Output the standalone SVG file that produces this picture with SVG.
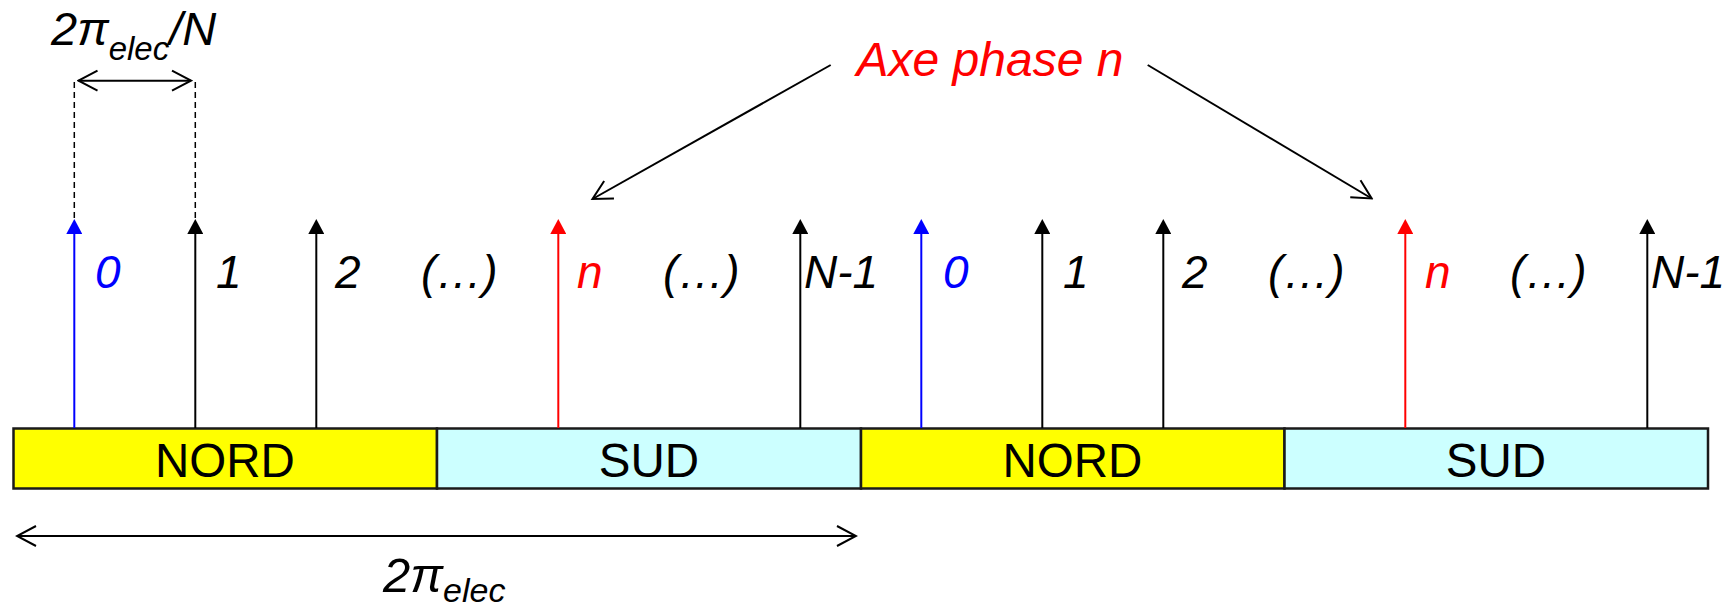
<svg xmlns="http://www.w3.org/2000/svg" width="1735" height="606" viewBox="0 0 1735 606">
<style>
text{font-family:"Liberation Sans",Arial,sans-serif;}
.it{font-style:italic;}
.lbl{font-size:46px;font-style:italic;fill:#000;}
.blue{fill:#0000FF;}
.red{fill:#FF0000;}
.pole{font-size:47.5px;text-anchor:middle;fill:#000;}
.nord{fill:#FFFF00;stroke:#1a1a1a;stroke-width:2.5;}
.sud{fill:#CCFFFF;stroke:#1a1a1a;stroke-width:2.5;}
.vk{stroke:#000;stroke-width:2;fill:none;}
.vb{stroke:#0000FF;stroke-width:2;fill:none;}
.vr{stroke:#FF0000;stroke-width:2;fill:none;}
.thin{stroke:#000;stroke-width:2;fill:none;}
.dash{stroke:#000;stroke-width:1.5;fill:none;stroke-dasharray:6 4;}
</style>
<defs>
<marker id="open" markerUnits="userSpaceOnUse" viewBox="-22 -12 24 24" refX="0" refY="0" markerWidth="24" markerHeight="24" orient="auto-start-reverse">
<path d="M-19,-10 L0,0 L-19,10" fill="none" stroke="#000" stroke-width="2"/>
</marker>
<marker id="hk" markerUnits="userSpaceOnUse" viewBox="0 -8 16 16" refX="1" refY="0" markerWidth="16" markerHeight="16" orient="auto">
<path d="M0,-8 L15,0 L0,8 Z" fill="#000"/>
</marker>
<marker id="hb" markerUnits="userSpaceOnUse" viewBox="0 -8 16 16" refX="1" refY="0" markerWidth="16" markerHeight="16" orient="auto">
<path d="M0,-8 L15,0 L0,8 Z" fill="#0000FF"/>
</marker>
<marker id="hr" markerUnits="userSpaceOnUse" viewBox="0 -8 16 16" refX="1" refY="0" markerWidth="16" markerHeight="16" orient="auto">
<path d="M0,-8 L15,0 L0,8 Z" fill="#FF0000"/>
</marker>
</defs>

<g id="poles">
<g id="nord1"><rect class="nord" x="13.5" y="428.5" width="423.5" height="60"/><text class="pole" x="225" y="477">NORD</text></g>
<g id="sud1"><rect class="sud" x="437" y="428.5" width="424" height="60"/><text class="pole" x="649" y="477">SUD</text></g>
<g id="nord2"><rect class="nord" x="861" y="428.5" width="423.5" height="60"/><text class="pole" x="1072.5" y="477">NORD</text></g>
<g id="sud2"><rect class="sud" x="1284.5" y="428.5" width="423.5" height="60"/><text class="pole" x="1496" y="477">SUD</text></g>
</g>

<g id="connectors">
<line class="vb" x1="74.3" y1="428" x2="74.3" y2="233" marker-end="url(#hb)"/>
<line class="vk" x1="195.3" y1="428" x2="195.3" y2="233" marker-end="url(#hk)"/>
<line class="vk" x1="316.3" y1="428" x2="316.3" y2="233" marker-end="url(#hk)"/>
<line class="vr" x1="558.3" y1="428" x2="558.3" y2="233" marker-end="url(#hr)"/>
<line class="vk" x1="800.3" y1="428" x2="800.3" y2="233" marker-end="url(#hk)"/>
<line class="vb" x1="921.3" y1="428" x2="921.3" y2="233" marker-end="url(#hb)"/>
<line class="vk" x1="1042.3" y1="428" x2="1042.3" y2="233" marker-end="url(#hk)"/>
<line class="vk" x1="1163.3" y1="428" x2="1163.3" y2="233" marker-end="url(#hk)"/>
<line class="vr" x1="1405.3" y1="428" x2="1405.3" y2="233" marker-end="url(#hr)"/>
<line class="vk" x1="1647.3" y1="428" x2="1647.3" y2="233" marker-end="url(#hk)"/>
<line class="dash" x1="74.3" y1="82" x2="74.3" y2="218"/>
<line class="dash" x1="195.3" y1="82" x2="195.3" y2="218"/>
<line class="thin" x1="78.5" y1="80.7" x2="191" y2="80.7" marker-start="url(#open)" marker-end="url(#open)"/>
<line class="thin" x1="17" y1="536" x2="856" y2="536" marker-start="url(#open)" marker-end="url(#open)"/>
<line class="thin" x1="830.7" y1="65" x2="592.5" y2="199" marker-end="url(#open)"/>
<line class="thin" x1="1147.7" y1="65" x2="1371.7" y2="198.5" marker-end="url(#open)"/>
</g>

<g id="labels">
<text class="lbl blue" x="95" y="288">0</text>
<text class="lbl" x="216" y="288">1</text>
<text class="lbl" x="335" y="288">2</text>
<text class="lbl" x="421" y="288">(…)</text>
<text class="lbl red" x="577" y="288">n</text>
<text class="lbl" x="663" y="288">(…)</text>
<text class="lbl" x="804" y="288">N-1</text>
<text class="lbl blue" x="943" y="288">0</text>
<text class="lbl" x="1063" y="288">1</text>
<text class="lbl" x="1182" y="288">2</text>
<text class="lbl" x="1268" y="288">(…)</text>
<text class="lbl red" x="1425" y="288">n</text>
<text class="lbl" x="1510" y="288">(…)</text>
<text class="lbl" x="1651" y="288">N-1</text>
</g>

<g id="axe-label">
<text class="it red" x="990" y="76" font-size="48" text-anchor="middle">Axe phase n</text>
</g>

<g id="pitch-label">
<text class="it" x="51" y="45" font-size="47">2π<tspan font-size="33" dy="15">elec</tspan><tspan font-size="47" dy="-15">/N</tspan></text>
</g>

<g id="period-label">
<text class="it" x="383" y="592" font-size="49">2π<tspan font-size="34" dy="10">elec</tspan></text>
</g>
</svg>
